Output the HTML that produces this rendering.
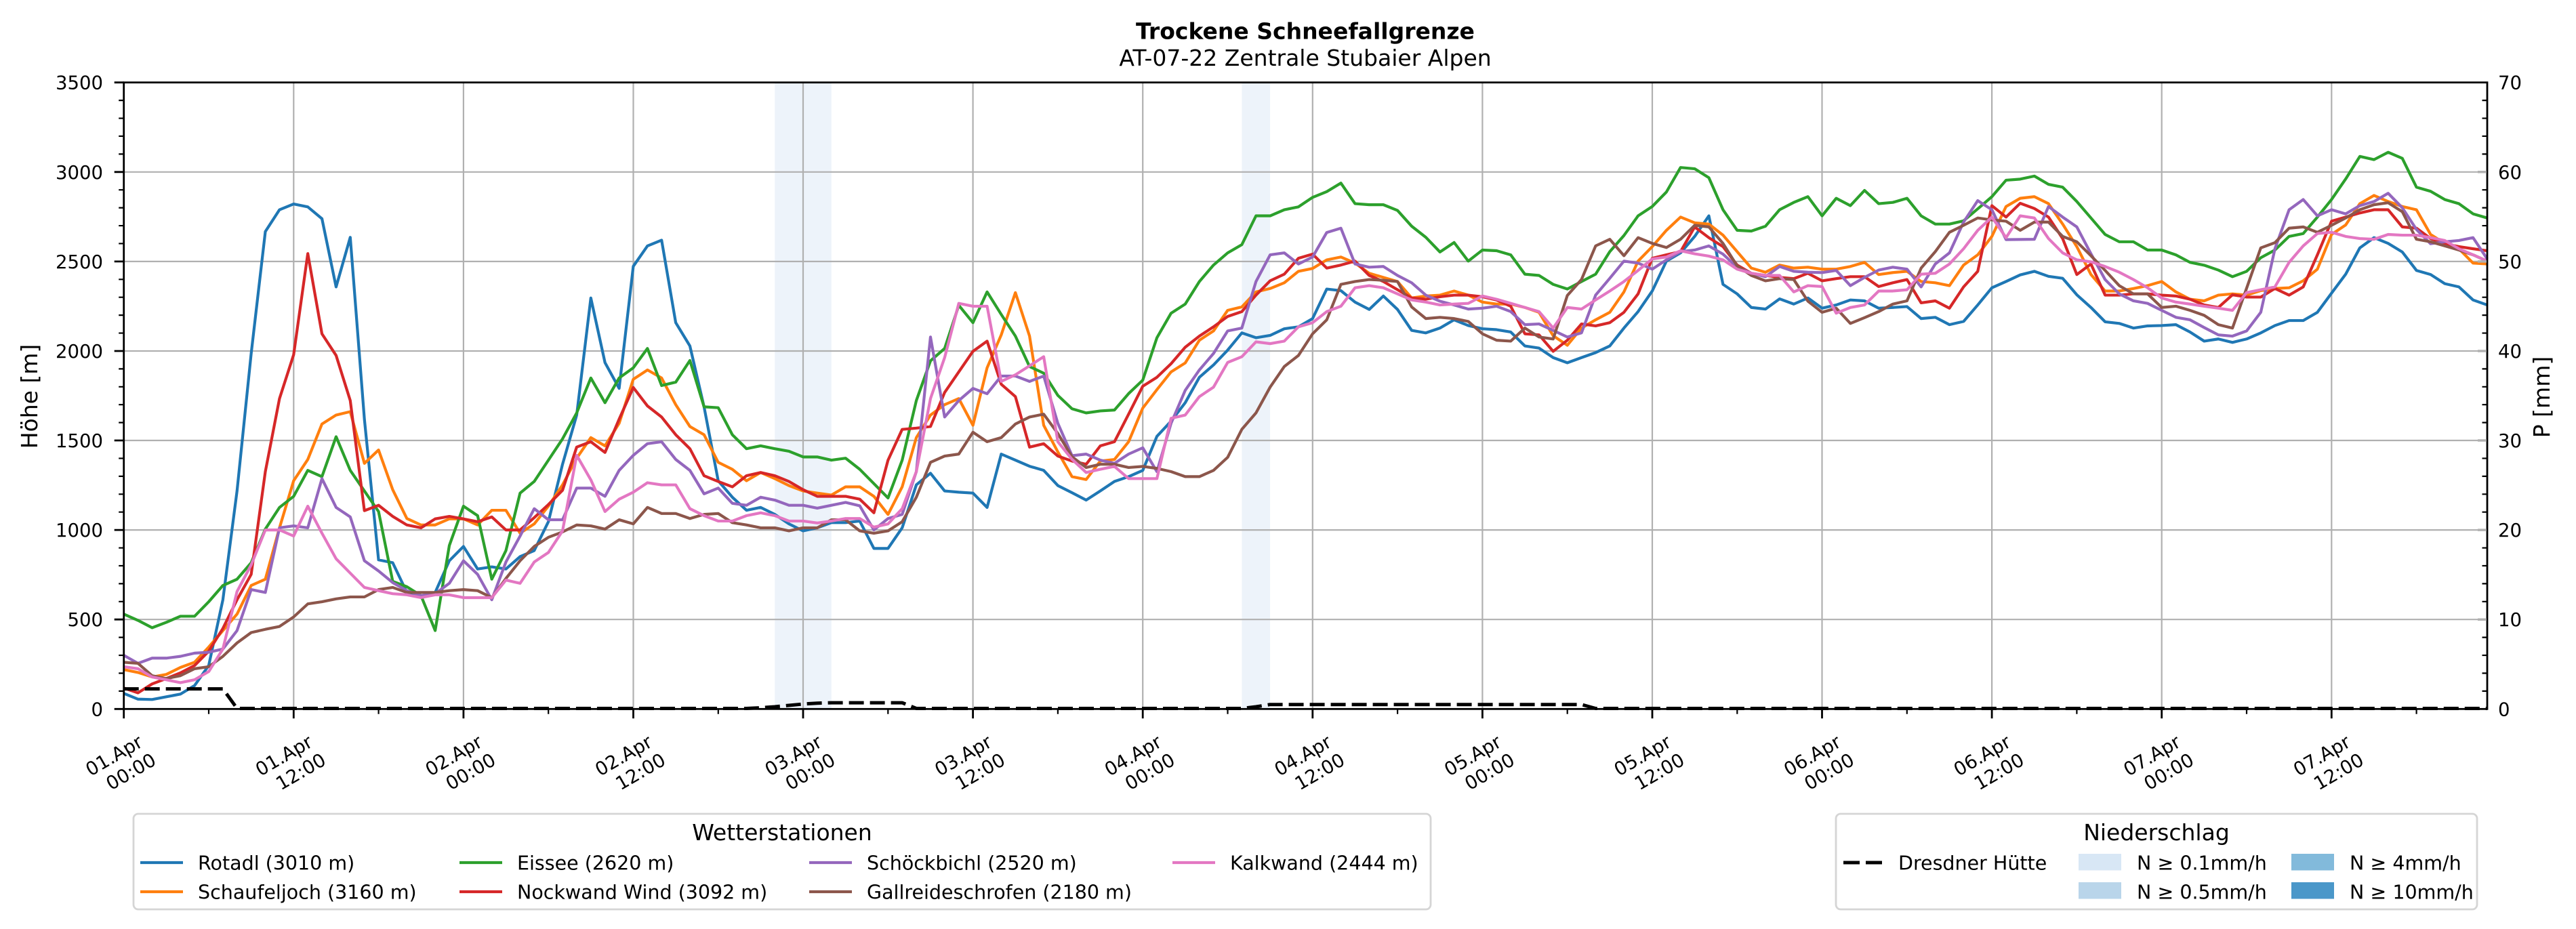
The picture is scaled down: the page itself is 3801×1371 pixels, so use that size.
<!DOCTYPE html>
<html>
<head>
<meta charset="utf-8">
<style>
html,body{margin:0;padding:0;background:#fff;}
svg{display:block;}
text{font-family:"DejaVu Sans","Liberation Sans",sans-serif;fill:#000;}
</style>
</head>
<body>
<svg width="3801" height="1371" viewBox="0 0 3801 1371" xmlns="http://www.w3.org/2000/svg">
<rect x="0" y="0" width="3801" height="1371" fill="#fff"/>

<!-- Titles -->
<text x="1926" y="57.5" font-size="33" font-weight="bold" text-anchor="middle">Trockene Schneefallgrenze</text>
<text x="1926" y="97" font-size="33" text-anchor="middle">AT-07-22 Zentrale Stubaier Alpen</text>

<!-- Precip spans -->
<rect x="1143.3" y="121.7" width="83.5" height="924.6" fill="#edf3fa"/>
<rect x="1832.4" y="121.7" width="41.7" height="924.6" fill="#edf3fa"/>

<!-- Grid -->
<g stroke="#b0b0b0" stroke-width="2.2" fill="none">
<path d="M433.3,121.7V1046.3 M683.9,121.7V1046.3 M934.5,121.7V1046.3 M1185,121.7V1046.3 M1435.6,121.7V1046.3 M1686.2,121.7V1046.3 M1936.8,121.7V1046.3 M2187.4,121.7V1046.3 M2438,121.7V1046.3 M2688.5,121.7V1046.3 M2939.1,121.7V1046.3 M3189.7,121.7V1046.3 M3440.3,121.7V1046.3"/>
<path d="M182.7,914.2H3670 M182.7,782.1H3670 M182.7,650H3670 M182.7,518H3670 M182.7,385.9H3670 M182.7,253.8H3670"/>
</g>

<!-- Series -->
<g transform="translate(182.7 1046.3) scale(20.882 -0.26417)" fill="none" stroke-linejoin="round" stroke-linecap="butt">
<polyline vector-effect="non-scaling-stroke" stroke="#1f77b4" stroke-width="4.2" points="0,87 1,55 2,53 3,68 4,83 5,131 6,243 7,610 8,1218 9,1986 10,2667 11,2789 12,2821 13,2805 14,2739 15,2358 16,2635 17,1619 18,833 19,817 20,651 21,628 22,651 23,828 24,908 25,782 26,794 27,782 28,851 29,885 30,1046 31,1367 32,1642 33,2296 34,1935 35,1791 36,2473 37,2587 38,2619 39,2158 40,2028 41,1688 42,1275 43,1183 44,1110 45,1126 46,1087 47,1034 48,995 49,1012 50,1041 51,1041 52,1050 53,897 54,897 55,1012 56,1252 57,1317 58,1218 59,1211 60,1206 61,1126 62,1424 63,1390 64,1356 65,1333 66,1248 67,1208 68,1167 69,1218 70,1271 71,1298 72,1333 73,1523 74,1608 75,1711 76,1853 77,1922 78,2005 79,2101 80,2074 81,2087 82,2124 83,2135 84,2181 85,2346 86,2337 87,2273 88,2232 89,2307 90,2232 91,2115 92,2101 93,2128 94,2174 95,2142 96,2124 97,2119 98,2106 99,2028 100,2016 101,1963 102,1934 103,1963 104,1991 105,2028 106,2128 107,2220 108,2335 109,2502 110,2548 111,2640 112,2755 113,2372 114,2319 115,2243 116,2234 117,2291 118,2262 119,2296 120,2239 121,2257 122,2285 123,2280 124,2239 125,2243 126,2248 127,2181 128,2188 129,2147 130,2165 131,2257 132,2353 133,2388 134,2425 135,2445 136,2417 137,2406 138,2314 139,2243 140,2163 141,2154 142,2128 143,2140 144,2142 145,2147 146,2106 147,2055 148,2067 149,2048 150,2067 151,2101 152,2142 153,2170 154,2170 155,2216 156,2323 157,2429 158,2576 159,2633 160,2601 161,2553 162,2450 163,2427 164,2376 165,2358 166,2285 167,2257"/>
<polyline vector-effect="non-scaling-stroke" stroke="#ff7f0e" stroke-width="4.2" points="0,220 1,204 2,179 3,193 4,232 5,261 6,346 7,438 8,530 9,690 10,725 11,1012 12,1275 13,1394 14,1592 15,1642 16,1661 17,1372 18,1447 19,1225 20,1064 21,1028 22,1028 23,1062 24,1062 25,1028 26,1110 27,1110 28,982 29,1034 30,1133 31,1252 32,1401 33,1516 34,1470 35,1596 36,1842 37,1894 38,1849 39,1700 40,1578 41,1532 42,1378 43,1339 44,1275 45,1321 46,1287 47,1248 48,1218 49,1206 50,1195 51,1241 52,1241 53,1188 54,1087 55,1241 56,1516 57,1642 58,1700 59,1734 60,1585 61,1906 62,2090 63,2326 64,2083 65,1585 66,1436 67,1298 68,1282 69,1385 70,1394 71,1493 72,1681 73,1784 74,1883 75,1933 76,2060 77,2112 78,2227 79,2246 80,2330 81,2349 82,2381 83,2445 84,2461 85,2509 86,2525 87,2491 88,2434 89,2411 90,2388 91,2296 92,2307 93,2312 94,2335 95,2312 96,2273 97,2262 98,2262 99,2243 100,2216 101,2085 102,2032 103,2128 104,2174 105,2216 106,2330 107,2502 108,2583 109,2674 110,2748 111,2716 112,2709 113,2647 114,2555 115,2463 116,2440 117,2480 118,2463 119,2468 120,2457 121,2457 122,2472 123,2495 124,2427 125,2438 126,2445 127,2388 128,2381 129,2365 130,2480 131,2537 132,2640 133,2807 134,2853 135,2862 136,2823 137,2709 138,2583 139,2427 140,2335 141,2335 142,2349 143,2365 144,2388 145,2330 146,2289 147,2280 148,2312 149,2319 150,2312 151,2337 152,2349 153,2353 154,2392 155,2457 156,2651 157,2704 158,2823 159,2869 160,2835 161,2807 162,2789 163,2651 164,2601 165,2571 166,2491 167,2486"/>
<polyline vector-effect="non-scaling-stroke" stroke="#2ca02c" stroke-width="4.2" points="0,530 1,495 2,454 3,484 4,518 5,518 6,599 7,690 8,725 9,817 10,1005 11,1126 12,1188 13,1333 14,1298 15,1521 16,1333 17,1218 18,1103 19,713 20,683 21,633 22,438 23,913 24,1133 25,1080 26,725 27,885 28,1206 29,1271 30,1390 31,1509 32,1654 33,1849 34,1711 35,1849 36,1906 37,2014 38,1807 39,1826 40,1947 41,1688 42,1683 43,1532 44,1454 45,1470 46,1454 47,1440 48,1408 49,1408 50,1390 51,1401 52,1339 53,1259 54,1179 55,1390 56,1723 57,1945 58,2014 59,2255 60,2158 61,2330 62,2204 63,2083 64,1913 65,1876 66,1752 67,1677 68,1654 69,1665 70,1670 71,1762 72,1837 73,2074 74,2211 75,2262 76,2388 77,2480 78,2548 79,2594 80,2755 81,2755 82,2789 83,2805 84,2858 85,2890 86,2938 87,2823 88,2817 89,2817 90,2785 91,2697 92,2635 93,2553 94,2606 95,2502 96,2564 97,2560 98,2537 99,2429 100,2422 101,2372 102,2346 103,2388 104,2429 105,2555 106,2645 107,2755 108,2807 109,2888 110,3025 111,3018 112,2968 113,2789 114,2674 115,2670 116,2697 117,2789 118,2830 119,2862 120,2755 121,2853 122,2812 123,2897 124,2823 125,2830 126,2853 127,2755 128,2709 129,2709 130,2727 131,2794 132,2862 133,2954 134,2960 135,2977 136,2931 137,2915 138,2835 139,2743 140,2651 141,2610 142,2610 143,2564 144,2564 145,2537 146,2495 147,2479 148,2452 149,2415 150,2445 151,2521 152,2564 153,2640 154,2656 155,2748 156,2846 157,2961 158,3087 159,3069 160,3110 161,3076 162,2915 163,2892 164,2846 165,2823 166,2766 167,2743"/>
<polyline vector-effect="non-scaling-stroke" stroke="#d62728" stroke-width="4.2" points="0,117 1,90 2,140 3,170 4,202 5,243 6,323 7,450 8,610 9,752 10,1326 11,1734 12,1979 13,2544 14,2096 15,1975 16,1723 17,1108 18,1138 19,1076 20,1028 21,1012 22,1062 23,1076 24,1062 25,1046 26,1073 27,1000 28,1000 29,1069 30,1142 31,1222 32,1463 33,1493 34,1433 35,1619 36,1796 37,1693 38,1631 39,1532 40,1454 41,1303 42,1271 43,1241 44,1303 45,1321 46,1303 47,1271 48,1225 49,1188 50,1188 51,1188 52,1172 53,1096 54,1390 55,1562 56,1569 57,1578 58,1768 59,1883 60,1998 61,2055 62,1814 63,1745 64,1463 65,1482 66,1413 67,1385 68,1367 69,1470 70,1493 71,1647 72,1803 73,1853 74,1929 75,2021 76,2083 77,2135 78,2193 79,2220 80,2312 81,2392 82,2429 83,2518 84,2541 85,2463 86,2480 87,2502 88,2422 89,2388 90,2342 91,2296 92,2289 93,2303 94,2312 95,2312 96,2303 97,2285 98,2250 99,2096 100,2090 101,1998 102,2060 103,2151 104,2140 105,2158 106,2216 107,2319 108,2518 109,2537 110,2555 111,2693 112,2633 113,2583 114,2480 115,2434 116,2422 117,2411 118,2404 119,2434 120,2392 121,2404 122,2415 123,2415 124,2360 125,2381 126,2399 127,2269 128,2280 129,2239 130,2358 131,2445 132,2812 133,2748 134,2825 135,2796 136,2748 137,2628 138,2427 139,2486 140,2312 141,2312 142,2319 143,2319 144,2312 145,2307 146,2289 147,2257 148,2243 149,2314 150,2301 151,2301 152,2349 153,2312 154,2358 155,2537 156,2725 157,2748 158,2771 159,2789 160,2789 161,2693 162,2686 163,2628 164,2599 165,2583 166,2571 167,2560"/>
<polyline vector-effect="non-scaling-stroke" stroke="#9467bd" stroke-width="4.2" points="0,300 1,255 2,284 3,284 4,294 5,312 6,317 7,335 8,438 9,667 10,651 11,1012 12,1023 13,1012 14,1287 15,1126 16,1073 17,828 18,771 19,706 20,661 21,633 22,644 23,702 24,828 25,752 26,610 27,821 28,966 29,1119 30,1057 31,1057 32,1234 33,1234 34,1188 35,1333 36,1417 37,1482 38,1493 39,1394 40,1333 41,1202 42,1234 43,1149 44,1138 45,1183 46,1167 47,1138 48,1138 49,1122 50,1138 51,1154 52,1135 53,1000 54,1064 55,1087 56,1326 57,2078 58,1631 59,1723 60,1791 61,1761 62,1860 63,1860 64,1830 65,1860 66,1596 67,1415 68,1424 69,1390 70,1372 71,1424 72,1459 73,1326 74,1596 75,1780 76,1894 77,1986 78,2112 79,2128 80,2388 81,2537 82,2548 83,2486 84,2525 85,2662 86,2686 87,2486 88,2468 89,2472 90,2422 91,2381 92,2312 93,2278 94,2257 95,2234 96,2239 97,2250 98,2220 99,2147 100,2151 101,2115 102,2078 103,2101 104,2312 105,2406 106,2502 107,2491 108,2457 109,2509 110,2555 111,2564 112,2587 113,2541 114,2468 115,2434 116,2415 117,2472 118,2445 119,2440 120,2438 121,2450 122,2365 123,2411 124,2452 125,2468 126,2457 127,2358 128,2486 129,2548 130,2720 131,2840 132,2789 133,2622 134,2623 135,2624 136,2807 137,2748 138,2693 139,2543 140,2399 141,2319 142,2280 143,2266 144,2227 145,2188 146,2174 147,2131 148,2090 149,2083 150,2112 151,2216 152,2571 153,2789 154,2846 155,2755 156,2789 157,2766 158,2812 159,2835 160,2881 161,2800 162,2679 163,2599 164,2610 165,2617 166,2633 167,2514"/>
<polyline vector-effect="non-scaling-stroke" stroke="#8c564b" stroke-width="4.2" points="0,261 1,255 2,186 3,170 4,186 5,225 6,236 7,294 8,369 9,427 10,445 11,461 12,514 13,587 14,599 15,615 16,626 17,626 18,667 19,679 20,651 21,651 22,651 23,661 24,667 25,661 26,622 27,729 28,828 29,908 30,959 31,989 32,1028 33,1023 34,1005 35,1057 36,1034 37,1126 38,1092 39,1092 40,1064 41,1087 42,1092 43,1041 44,1028 45,1012 46,1012 47,995 48,1012 49,1012 50,1057 51,1057 52,995 53,982 54,995 55,1046 56,1183 57,1378 58,1413 59,1424 60,1546 61,1493 62,1516 63,1592 64,1631 65,1647 66,1539 67,1409 68,1349 69,1367 70,1367 71,1349 72,1355 73,1344 74,1326 75,1298 76,1298 77,1333 78,1406 79,1562 80,1654 81,1798 82,1913 83,1975 84,2096 85,2174 86,2372 87,2388 88,2399 89,2395 90,2388 91,2246 92,2181 93,2188 94,2181 95,2165 96,2096 97,2060 98,2055 99,2128 100,2078 101,2067 102,2310 103,2399 104,2587 105,2624 106,2532 107,2633 108,2601 109,2578 110,2624 111,2702 112,2693 113,2601 114,2475 115,2422 116,2392 117,2404 118,2399 119,2278 120,2216 121,2239 122,2154 123,2186 124,2220 125,2262 126,2280 127,2463 128,2555 129,2663 130,2702 131,2743 132,2732 133,2725 134,2674 135,2720 136,2720 137,2640 138,2610 139,2532 140,2450 141,2365 142,2319 143,2319 144,2243 145,2250 146,2227 147,2199 148,2147 149,2128 150,2351 151,2576 152,2605 153,2686 154,2693 155,2663 156,2702 157,2743 158,2789 159,2817 160,2828 161,2778 162,2624 163,2610 164,2587 165,2564 166,2537 167,2502"/>
<polyline vector-effect="non-scaling-stroke" stroke="#e377c2" stroke-width="4.2" points="0,236 1,225 2,179 3,163 4,147 5,163 6,209 7,335 8,656 9,805 10,1000 11,1000 12,966 13,1133 14,982 15,839 16,759 17,679 18,661 19,644 20,638 21,622 22,638 23,638 24,622 25,622 26,622 27,720 28,702 29,821 30,874 31,995 32,1417 33,1280 34,1103 35,1172 36,1211 37,1264 38,1252 39,1252 40,1119 41,1080 42,1050 43,1050 44,1080 45,1096 46,1080 47,1050 48,1050 49,1039 50,1050 51,1064 52,1064 53,1016 54,1034 55,1119 56,1326 57,1734 58,1963 59,2266 60,2250 61,2250 62,1830 63,1867 64,1917 65,1968 66,1493 67,1395 68,1321 69,1339 70,1355 71,1287 72,1287 73,1287 74,1624 75,1642 76,1745 77,1798 78,1936 79,1968 80,2051 81,2041 82,2055 83,2135 84,2158 85,2220 86,2250 87,2353 88,2365 89,2353 90,2319 91,2285 92,2273 93,2257 94,2262 95,2266 96,2307 97,2289 98,2266 99,2243 100,2220 101,2128 102,2243 103,2234 104,2285 105,2335 106,2388 107,2450 108,2514 109,2525 110,2560 111,2543 112,2530 113,2509 114,2457 115,2434 116,2422 117,2422 118,2330 119,2365 120,2360 121,2211 122,2243 123,2257 124,2335 125,2335 126,2342 127,2429 128,2434 129,2486 130,2571 131,2674 132,2748 133,2633 134,2755 135,2743 136,2628 137,2548 138,2509 139,2498 140,2472 141,2440 142,2399 143,2353 144,2296 145,2273 146,2262 147,2250 148,2239 149,2227 150,2326 151,2342 152,2358 153,2495 154,2587 155,2656 156,2663 157,2640 158,2628 159,2624 160,2651 161,2647 162,2647 163,2633 164,2617 165,2571 166,2537 167,2502"/>
</g>

<!-- Precipitation dashed -->
<polyline fill="none" stroke="#000" stroke-width="5" stroke-dasharray="22 9" stroke-linejoin="round" points="182.7,1016.6 328.9,1016.6 349.8,1045.5 1101.5,1045.5 1122.4,1044.5 1143.3,1043 1164.1,1041 1185,1039 1205.9,1037.7 1226.8,1037.1 1331.2,1037.1 1352.1,1045.5 1832.4,1045.5 1853.3,1043 1874.1,1039.7 2333.5,1039.7 2354.4,1045.5 3670,1045.5"/>

<!-- Spines -->
<rect x="182.7" y="121.7" width="3487.3" height="924.6" fill="none" stroke="#000" stroke-width="2.8"/>

<!-- Left ticks -->
<g stroke="#000" stroke-width="2.8" fill="none">
<path d="M168.7,1046.3h14 M168.7,914.2h14 M168.7,782.1h14 M168.7,650h14 M168.7,518h14 M168.7,385.9h14 M168.7,253.8h14 M168.7,121.7h14"/>
<path stroke-width="2.2" d="M175.2,1019.88h7.5 M175.2,993.47h7.5 M175.2,967.05h7.5 M175.2,940.63h7.5 M175.2,887.8h7.5 M175.2,861.38h7.5 M175.2,834.96h7.5 M175.2,808.55h7.5 M175.2,755.71h7.5 M175.2,729.3h7.5 M175.2,702.88h7.5 M175.2,676.46h7.5 M175.2,623.63h7.5 M175.2,597.21h7.5 M175.2,570.79h7.5 M175.2,544.38h7.5 M175.2,491.54h7.5 M175.2,465.13h7.5 M175.2,438.71h7.5 M175.2,412.29h7.5 M175.2,359.46h7.5 M175.2,333.04h7.5 M175.2,306.62h7.5 M175.2,280.21h7.5 M175.2,227.37h7.5 M175.2,200.96h7.5 M175.2,174.54h7.5 M175.2,148.12h7.5"/>
<!-- Right ticks (inside) -->
<path stroke-width="2.2" d="M3662.5,1019.88h7.5 M3662.5,993.47h7.5 M3662.5,967.05h7.5 M3662.5,940.63h7.5 M3662.5,887.8h7.5 M3662.5,861.38h7.5 M3662.5,834.96h7.5 M3662.5,808.55h7.5 M3662.5,755.71h7.5 M3662.5,729.3h7.5 M3662.5,702.88h7.5 M3662.5,676.46h7.5 M3662.5,623.63h7.5 M3662.5,597.21h7.5 M3662.5,570.79h7.5 M3662.5,544.38h7.5 M3662.5,491.54h7.5 M3662.5,465.13h7.5 M3662.5,438.71h7.5 M3662.5,412.29h7.5 M3662.5,359.46h7.5 M3662.5,333.04h7.5 M3662.5,306.62h7.5 M3662.5,280.21h7.5 M3662.5,227.37h7.5 M3662.5,200.96h7.5 M3662.5,174.54h7.5 M3662.5,148.12h7.5"/>
<path stroke="#b0b0b0" stroke-width="3.5" d="M3656,914.2h13 M3656,782.1h13 M3656,650h13 M3656,518h13 M3656,385.9h13 M3656,253.8h13"/>
<!-- X ticks -->
<path d="M182.7,1046.3v14 M433.3,1046.3v14 M683.9,1046.3v14 M934.5,1046.3v14 M1185,1046.3v14 M1435.6,1046.3v14 M1686.2,1046.3v14 M1936.8,1046.3v14 M2187.4,1046.3v14 M2438,1046.3v14 M2688.5,1046.3v14 M2939.1,1046.3v14 M3189.7,1046.3v14 M3440.3,1046.3v14"/>
<path stroke-width="2.2" d="M308,1046.3v7.5 M558.6,1046.3v7.5 M809.2,1046.3v7.5 M1059.8,1046.3v7.5 M1310.3,1046.3v7.5 M1560.9,1046.3v7.5 M1811.5,1046.3v7.5 M2062.1,1046.3v7.5 M2312.7,1046.3v7.5 M2563.3,1046.3v7.5 M2813.8,1046.3v7.5 M3064.4,1046.3v7.5 M3315,1046.3v7.5 M3565.6,1046.3v7.5"/>
</g>

<!-- Left tick labels -->
<g font-size="27.5" text-anchor="end">
<text x="152" y="1056.3">0</text>
<text x="152" y="924.2">500</text>
<text x="152" y="792.1">1000</text>
<text x="152" y="660">1500</text>
<text x="152" y="528">2000</text>
<text x="152" y="395.9">2500</text>
<text x="152" y="263.8">3000</text>
<text x="152" y="131.7">3500</text>
</g>
<!-- Right tick labels -->
<g font-size="27.5" text-anchor="start">
<text x="3686" y="1056.3">0</text>
<text x="3686" y="924.2">10</text>
<text x="3686" y="792.1">20</text>
<text x="3686" y="660">30</text>
<text x="3686" y="528">40</text>
<text x="3686" y="395.9">50</text>
<text x="3686" y="263.8">60</text>
<text x="3686" y="131.7">70</text>
</g>

<!-- Axis labels -->
<text transform="translate(55 585) rotate(-90)" font-size="33" text-anchor="middle">Höhe [m]</text>
<text transform="translate(3762 586) rotate(-90)" font-size="33" text-anchor="middle">P [mm]</text>

<!-- X tick labels -->
<g font-size="27.5" text-anchor="middle">
<text transform="translate(173.05 1123.3) rotate(-30)">01.Apr</text><text transform="translate(198 1147) rotate(-30)">00:00</text>
<text transform="translate(423.65 1123.3) rotate(-30)">01.Apr</text><text transform="translate(448.6 1147) rotate(-30)">12:00</text>
<text transform="translate(674.25 1123.3) rotate(-30)">02.Apr</text><text transform="translate(699.2 1147) rotate(-30)">00:00</text>
<text transform="translate(924.85 1123.3) rotate(-30)">02.Apr</text><text transform="translate(949.8 1147) rotate(-30)">12:00</text>
<text transform="translate(1175.35 1123.3) rotate(-30)">03.Apr</text><text transform="translate(1200.3 1147) rotate(-30)">00:00</text>
<text transform="translate(1425.95 1123.3) rotate(-30)">03.Apr</text><text transform="translate(1450.9 1147) rotate(-30)">12:00</text>
<text transform="translate(1676.55 1123.3) rotate(-30)">04.Apr</text><text transform="translate(1701.5 1147) rotate(-30)">00:00</text>
<text transform="translate(1927.15 1123.3) rotate(-30)">04.Apr</text><text transform="translate(1952.1 1147) rotate(-30)">12:00</text>
<text transform="translate(2177.75 1123.3) rotate(-30)">05.Apr</text><text transform="translate(2202.7 1147) rotate(-30)">00:00</text>
<text transform="translate(2428.35 1123.3) rotate(-30)">05.Apr</text><text transform="translate(2453.3 1147) rotate(-30)">12:00</text>
<text transform="translate(2678.85 1123.3) rotate(-30)">06.Apr</text><text transform="translate(2703.8 1147) rotate(-30)">00:00</text>
<text transform="translate(2929.45 1123.3) rotate(-30)">06.Apr</text><text transform="translate(2954.4 1147) rotate(-30)">12:00</text>
<text transform="translate(3180.05 1123.3) rotate(-30)">07.Apr</text><text transform="translate(3205 1147) rotate(-30)">00:00</text>
<text transform="translate(3430.65 1123.3) rotate(-30)">07.Apr</text><text transform="translate(3455.6 1147) rotate(-30)">12:00</text>
</g>

<!-- Legend: Wetterstationen -->
<rect x="197" y="1201" width="1914" height="141" rx="7" ry="7" fill="#fff" stroke="#d5d5d5" stroke-width="2.8"/>
<text x="1154" y="1240" font-size="33" text-anchor="middle">Wetterstationen</text>
<g stroke-width="4.2" fill="none">
<path stroke="#1f77b4" d="M207,1273h63"/>
<path stroke="#ff7f0e" d="M207,1316h63"/>
<path stroke="#2ca02c" d="M678,1273h63"/>
<path stroke="#d62728" d="M678,1316h63"/>
<path stroke="#9467bd" d="M1194,1273h63"/>
<path stroke="#8c564b" d="M1194,1316h63"/>
<path stroke="#e377c2" d="M1730,1273h63"/>
</g>
<g font-size="28.5">
<text x="292" y="1283.5">Rotadl (3010 m)</text>
<text x="292" y="1326.5">Schaufeljoch (3160 m)</text>
<text x="763" y="1283.5">Eissee (2620 m)</text>
<text x="763" y="1326.5">Nockwand Wind (3092 m)</text>
<text x="1279" y="1283.5">Schöckbichl (2520 m)</text>
<text x="1279" y="1326.5">Gallreideschrofen (2180 m)</text>
<text x="1815" y="1283.5">Kalkwand (2444 m)</text>
</g>

<!-- Legend: Niederschlag -->
<rect x="2709" y="1201" width="946" height="141" rx="7" ry="7" fill="#fff" stroke="#d5d5d5" stroke-width="2.8"/>
<text x="3182" y="1240" font-size="33" text-anchor="middle">Niederschlag</text>
<path d="M2720,1273h24 M2753,1273h24" stroke="#000" stroke-width="5"/>
<rect x="3067" y="1260" width="63" height="24.5" fill="#d8e7f5"/>
<rect x="3067" y="1302" width="63" height="24.5" fill="#b9d5ea"/>
<rect x="3381" y="1260" width="63" height="24.5" fill="#82badb"/>
<rect x="3381" y="1302" width="63" height="24.5" fill="#4a97c9"/>
<g font-size="28.5">
<text x="2801" y="1283.5">Dresdner Hütte</text>
<text x="3153" y="1283.5">N ≥ 0.1mm/h</text>
<text x="3153" y="1326.5">N ≥ 0.5mm/h</text>
<text x="3467" y="1283.5">N ≥ 4mm/h</text>
<text x="3467" y="1326.5">N ≥ 10mm/h</text>
</g>
</svg>
</body>
</html>
